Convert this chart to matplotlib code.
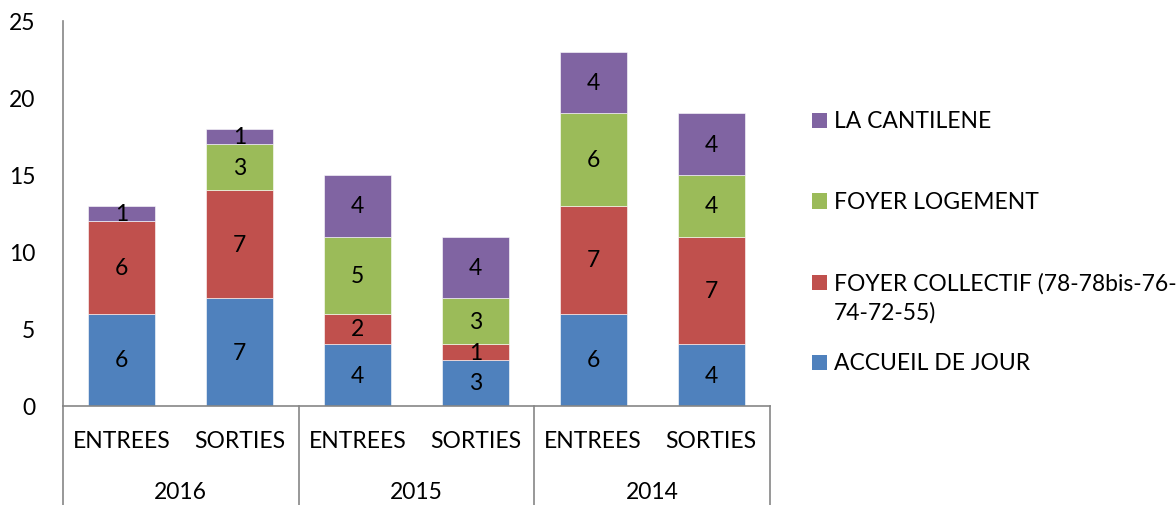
import numpy as np
import matplotlib.pyplot as plt
from matplotlib.lines import Line2D
from matplotlib.patches import Rectangle

plt.rcParams['font.family'] = ['Lato', 'DejaVu Sans']

categories = ["ENTREES", "SORTIES", "ENTREES", "SORTIES", "ENTREES", "SORTIES"]
years = ["2016", "2015", "2014"]
series_names = ["ACCUEIL DE JOUR", "FOYER COLLECTIF (78-78bis-76-\n74-72-55)",
                "FOYER LOGEMENT", "LA CANTILENE"]
accueil = [6, 7, 4, 3, 6, 4]
collectif = [6, 7, 2, 1, 7, 7]
logement = [0, 3, 5, 3, 6, 4]
cantilene = [1, 1, 4, 4, 4, 4]
colors = ["#4f81bd", "#c0504d", "#9bbb59", "#8064a2"]

W, H = 1176, 506
FS = 16.5
fig = plt.figure(figsize=(W / 100, H / 100), dpi=100)
ax = fig.add_axes([63 / W, 99 / H, 707 / W, 385 / H])

x = np.arange(len(categories))
bottom = np.zeros(len(categories))
for vals, col in zip([accueil, collectif, logement, cantilene], colors):
    vals = np.array(vals, dtype=float)
    ax.bar(x, vals, 0.57, bottom=bottom, color=col, edgecolor="white", linewidth=0.4)
    for xi, b, v in zip(x, bottom, vals):
        if v > 0:
            ax.text(xi, b + v / 2, "%d" % v, ha="center", va="center", fontsize=FS)
    bottom += vals

ax.set_xlim(-0.5, len(categories) - 0.5)
ax.set_ylim(0, 25)
ax.set_yticks(np.arange(0, 26, 5))
ax.tick_params(axis="y", length=0, labelsize=FS, pad=20)
ax.set_xticks(x)
ax.set_xticklabels(categories)
ax.tick_params(axis="x", length=0, labelsize=FS, pad=17)
for s in ["top", "right"]:
    ax.spines[s].set_visible(False)
for s in ["left", "bottom"]:
    ax.spines[s].set_color("#868686")
    ax.spines[s].set_linewidth(1.2)

# multi-level category axis: separators and year labels
trans = ax.get_xaxis_transform()
for xs in [-0.5, 1.5, 3.5, 5.5]:
    ax.add_line(Line2D([xs, xs], [0, -99 / 385 - 0.01], transform=trans,
                       color="#868686", linewidth=1.2, clip_on=False))
for i, yr in enumerate(years):
    ax.text(2 * i + 0.5, -86 / 385, yr, transform=trans, ha="center", va="center", fontsize=FS)

# legend drawn by hand (top entry first), pixel rows from the reference
legend_rows = [121, 202, 283, 363]
for name, col, yrow in zip(series_names[::-1], colors[::-1], legend_rows):
    fig.patches.append(Rectangle((812 / W, 1 - (yrow + 7.5) / H), 15 / W, 15 / H,
                                 transform=fig.transFigure, facecolor=col, edgecolor="none"))
    fig.text(834 / W, 1 - (yrow - 10) / H, name, ha="left", va="top", fontsize=FS,
             linespacing=1.45)

fig.savefig("out.png", dpi=100)
